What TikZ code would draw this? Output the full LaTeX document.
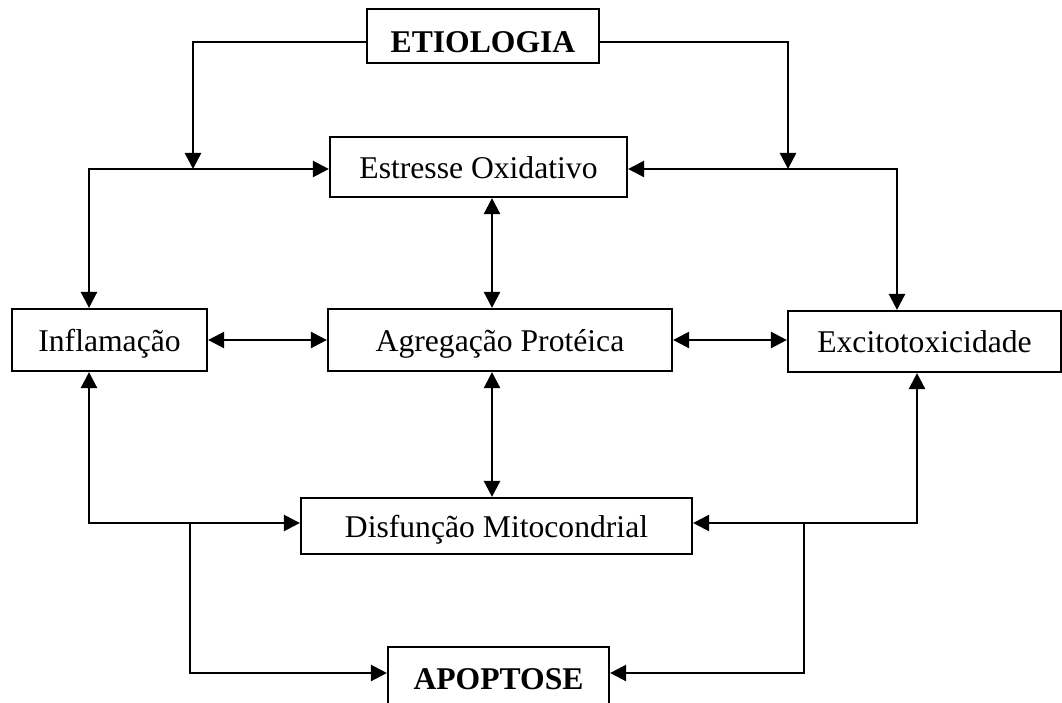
\documentclass[tikz,border=0pt]{standalone}
\usepackage{fontspec}
\setmainfont{Liberation Serif}
\usetikzlibrary{arrows.meta}

\tikzset{
	box/.style={draw, rectangle, line width=1.5pt, inner sep=0pt, text height=0.55cm, text depth=0cm, font=\fontsize{22.5}{27}\selectfont},
	arr/.style={line width=1.7pt, -{Triangle[length=0.4cm, width=0.4cm]}},
	darr/.style={line width=1.7pt, {Triangle[length=0.4cm, width=0.4cm]}-{Triangle[length=0.4cm, width=0.4cm]}},
}

\begin{document}
\begin{tikzpicture}[x=0.025cm, y=-0.025cm]
	\useasboundingbox (0,0) rectangle (1062,702);

	\node[box, text height=0.8cm, minimum width=5.8cm, minimum height=1.35cm] (L1-00) at (483, 36) {\textbf{ETIOLOGIA}};

	\node[box, minimum width=7.425cm, minimum height=1.5cm] (L2-00) at (478.5, 167) {Estresse Oxidativo\hspace{0.45cm}};

	\node[box, minimum width=4.875cm, minimum height=1.55cm] (L3-00) at (109.5, 340) {Inflamação};
	\node[box, minimum width=8.6cm, minimum height=1.55cm] (L3-01) at (500, 340) {Agregação Protéica};
	\node[box, minimum width=6.825cm, minimum height=1.525cm] (L3-02) at (924.5, 341.5) {Excitotoxicidade};

	\node[box, minimum width=9.775cm, minimum height=1.4cm] (L4-00) at (496.5, 526) {Disfunção Mitocondrial\hspace{0.3cm}};

	\node[box, minimum width=5.525cm, minimum height=1.55cm] (L5-00) at (498.5, 678) {\textbf{APOPTOSE}};

	\coordinate (L1-C00) at (193, 42);
	\coordinate (L1-C01) at (788, 42);
	\coordinate (L2-C00) at (89, 169);
	\coordinate (L2-C01) at (897, 169);
	\coordinate (L3-C00) at (492, 0);
	\coordinate (L4-C00) at (89, 523);
	\coordinate (L4-C01) at (917, 523);
	\coordinate (L4-C02) at (190, 523);
	\coordinate (L4-C03) at (804, 523);
	\coordinate (L5-C00) at (190, 673);
	\coordinate (L5-C01) at (804, 673);

	\draw[arr] (L1-00.west |- L1-C00) -- (L1-C00) -- (L1-C00 |- L2-C00);
	\draw[arr] (L1-00.east |- L1-C01) -- (L1-C01) -- (L1-C01 |- L2-C01);

	\draw[darr] (L2-00.west |- L2-C00) -- (L2-C00) -- (L2-C00 |- L3-00.north);
	\draw[darr] (L2-00.east |- L2-C01) -- (L2-C01) -- (L2-C01 |- L3-02.north);

	\draw[darr] (L2-00.south -| L3-C00) -- (L3-01.north -| L3-C00);
	\draw[darr] (L3-00.east) -- (L3-01.west);
	\draw[darr] (L3-01.east) -- (L3-02.west |- L3-01.east);
	\draw[darr] (L3-01.south -| L3-C00) -- (L4-00.north -| L3-C00);

	\draw[darr] (L3-00.south -| L4-C00) -- (L4-C00) -- (L4-00.west |- L4-C00);
	\draw[darr] (L3-02.south -| L4-C01) -- (L4-C01) -- (L4-00.east |- L4-C01);

	\draw[arr] (L4-C02) -- (L5-C00) -- (L5-00.west |- L5-C00);
	\draw[arr] (L4-C03) -- (L5-C01) -- (L5-00.east |- L5-C01);

\end{tikzpicture}
\end{document}
